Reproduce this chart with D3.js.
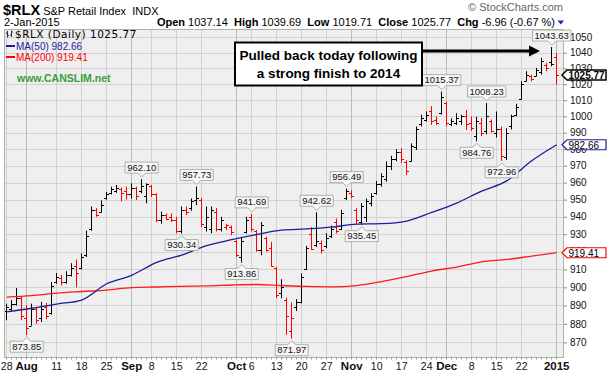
<!DOCTYPE html>
<html>
<head>
<meta charset="utf-8">
<script src="https://cdn.jsdelivr.net/npm/d3@7"></script>
<style>
  body { margin: 0; background: #fff; }
  svg { display: block; font-family: 'Liberation Sans', Arial, sans-serif; }
</style>
</head>
<body>
<svg id="chart" width="610" height="376"></svg>
<script>
// trading days Jul 28 2014 - Jan 2 2015
const holidays = ['2014-09-01', '2014-11-27', '2014-12-25', '2015-01-01']
const fmt = d3.timeFormat('%Y-%m-%d')
const days = d3.timeDays(new Date(2014, 6, 28), new Date(2015, 0, 3))
    .filter(d => d.getDay() % 6 !== 0 && !holidays.includes(fmt(d)))
    .map(fmt)

const opens = [887, 888, 891, 894, 883, 879, 888, 883, 889, 886,
    903, 905, 903, 907, 912, 911, 918, 933, 944, 943,
    951, 954, 955, 956, 955, 953, 957, 955, 952, 958,
    953, 938, 941, 940, 938, 932, 944, 945, 950, 950,
    934, 933, 943, 933, 934, 934, 926, 917, 931, 940,
    932, 921, 928, 922, 911, 897, 893, 876, 889, 892,
    910, 930, 924, 925, 923, 929, 937, 933, 951, 954,
    944, 937, 940, 948, 954, 959, 962, 970, 974, 978,
    972, 973, 981, 995, 998, 1003, 998, 1002, 1008, 995,
    996, 997, 1000, 996, 988, 996, 991, 997, 990, 992,
    975, 994, 1001, 1011, 1022, 1025, 1025, 1028, 1032, 1034, 1037.14]
const highs = [891, 893, 899.6, 895, 890, 891, 889, 892, 891.5, 903,
    908, 906.8, 909, 913.5, 915.5, 919, 932, 946, 945, 949.5,
    954.5, 957.6, 958.6, 957, 957.6, 959.6, 957.6, 962.10, 959.6, 958.6,
    953.7, 943, 942, 942, 940, 946, 946, 950.7, 957.73, 951,
    946, 946, 945, 940, 936, 935, 926.5, 928.5, 940, 941.69,
    932.3, 937, 928.6, 925.6, 911.5, 904.5, 894.3, 891.7, 893.5, 907.7,
    923.3, 934, 942.62, 926.4, 930.5, 935, 939, 944, 956.49, 955.5,
    945, 948, 950.7, 953.7, 961, 965.5, 972.7, 976, 980, 980.6,
    973.3, 983.5, 993.8, 1001, 1003, 1006.3, 1000, 1015.37, 1009, 998.8,
    1002, 1001, 1004, 1000, 999.8, 999, 1008.23, 998, 1003, 993.7,
    992.7, 1001, 1007.8, 1021.9, 1028.2, 1026, 1030.3, 1036.8, 1033.5, 1043.63, 1039.69]
const lows = [882, 887, 890, 882, 873.85, 879, 880, 881, 882.5, 885,
    902, 901, 902, 906, 900, 910, 917, 932, 940, 942.5,
    950, 953, 954, 949, 950, 950.6, 949.8, 953.7, 947.8, 951.6,
    937, 936, 938, 937, 930.4, 930.34, 941, 943.5, 946.8, 934,
    931.5, 930.5, 931.5, 931.5, 932.3, 929.4, 917, 913.86, 930.4, 931.5,
    920, 918, 920, 911.5, 894, 894, 874, 871.97, 887, 891.2,
    909.7, 921, 922.6, 919, 922, 927.8, 930.4, 932.3, 949.8, 950.7,
    936, 935.45, 937, 946, 953, 957.6, 960.5, 967.5, 972.7, 971.7,
    964.5, 972.7, 979.5, 993.8, 996.8, 994.7, 994.7, 1001, 994, 994,
    994.7, 994.7, 991.6, 991, 984.76, 988, 989, 990, 987, 972.96,
    973.5, 992, 1000, 1010.4, 1021.9, 1021.9, 1025, 1026, 1028.2, 1031.4, 1019.71]
const closes = [889, 891, 894, 884, 878, 888, 882, 888, 884, 901,
    906, 903, 907, 911, 908, 917, 929, 944, 941, 947,
    953, 956, 957, 954, 953, 957, 952, 958, 959, 953,
    938, 941, 939, 938, 932, 944, 943, 949, 951, 936,
    940, 944, 933, 938, 935, 931, 918, 926, 938, 933,
    921, 935, 921, 912, 896, 900, 884, 883, 892, 906,
    922, 921.5, 926, 921, 928, 933, 932, 942, 955, 952,
    938, 946, 949, 952, 959, 964, 970, 974, 978, 974,
    967, 982, 992, 999, 1001, 997, 996, 1012, 996, 997,
    999, 1000, 995, 993, 997, 990, 1000, 991, 992, 976,
    990, 1000, 1006, 1020, 1026, 1023, 1029, 1035, 1030, 1032.73, 1025.77]

// moving averages read every 5th trading day
const ma50 = [886.5, 888.5, 890.8, 893, 902, 906.7, 914, 918, 923.4, 926.8, 929.8, 932.3,
    933, 934, 935.8, 936, 937.5, 942.5, 948, 955, 961, 973, 982.66]
const ma200 = [894.6, 895.4, 896.8, 897.7, 898.5, 899.9, 900.2, 900.6, 900.8, 901.3, 901.6, 901,
    900.5, 900.3, 901, 903.2, 906, 909.1, 911.3, 914.3, 915.6, 917.5, 919.41]

const yTicks = d3.range(870, 1051, 10)
const tickDates = ['2014-07-28', '2014-08-01', '2014-08-11', '2014-08-18', '2014-08-25', '2014-09-02',
    '2014-09-08', '2014-09-15', '2014-09-22', '2014-10-01', '2014-10-06', '2014-10-13', '2014-10-20',
    '2014-10-27', '2014-11-03', '2014-11-10', '2014-11-17', '2014-11-24', '2014-12-01', '2014-12-08',
    '2014-12-15', '2014-12-22', '2015-01-02']
const tickText = ['28', 'Aug', '11', '18', '25', 'Sep', '8', '15', '22', 'Oct', '6', '13', '20',
    '27', 'Nov', '10', '17', '24', 'Dec', '8', '15', '22', '2015']

const highMarks = [27, 38, 49, 62, 68, 87, 96, 109]
const lowMarks = [4, 35, 47, 57, 71, 94, 99]

const svg = d3.select('#chart')
const L = 4, R = 564, T = 29, B = 357

const x = d3.scalePoint().domain(days).range([6.7, 556.7])
const y = d3.scaleLog().domain([862.2, 1055.3]).range([B, T])
const px = d => Math.floor(x(d)) + 0.5

// plot background + grid
svg.append('rect').attr('x', L).attr('y', T).attr('width', R - L).attr('height', B - T)
    .attr('fill', '#efefef')

svg.append('g').selectAll('line').data(yTicks).join('line')
    .attr('x1', L).attr('x2', R)
    .attr('y1', d => Math.round(y(d)) + 0.5).attr('y2', d => Math.round(y(d)) + 0.5)
    .attr('stroke', '#d2d2d2')

svg.append('g').selectAll('line').data(tickDates).join('line')
    .attr('x1', px).attr('x2', px)
    .attr('y1', T).attr('y2', B)
    .attr('stroke', (d, i) => /[A-Z]|2015/.test(tickText[i]) ? '#b8bcb8' : '#d2d2d2')

// price bars
const bars = svg.append('g').selectAll('g').data(days).join('g')
    .attr('stroke', (d, i) => i > 0 && closes[i] < closes[i - 1] ? '#ff0000' : '#000')
    .attr('stroke-width', 1)
bars.append('line')
    .attr('x1', px).attr('x2', px)
    .attr('y1', (d, i) => y(highs[i])).attr('y2', (d, i) => y(lows[i]))
bars.append('line')
    .attr('x1', d => px(d) - 2.5).attr('x2', px)
    .attr('y1', (d, i) => Math.round(y(opens[i])) + 0.5).attr('y2', (d, i) => Math.round(y(opens[i])) + 0.5)
bars.append('line')
    .attr('x1', px).attr('x2', d => px(d) + 2.5)
    .attr('y1', (d, i) => Math.round(y(closes[i])) + 0.5).attr('y2', (d, i) => Math.round(y(closes[i])) + 0.5)

// moving averages
const maLine = d3.line()
    .x((d, i) => x(days[i * 5]))
    .y(d => y(d))
    .curve(d3.curveMonotoneX)
svg.append('path').datum(ma200).attr('d', maLine)
    .attr('fill', 'none').attr('stroke', '#ff1a1a').attr('stroke-width', 1.3)
svg.append('path').datum(ma50).attr('d', maLine)
    .attr('fill', 'none').attr('stroke', '#1c1c9a').attr('stroke-width', 1.3)

// frame
svg.append('rect').attr('x', L + 0.5).attr('y', T + 0.5).attr('width', R - L - 1).attr('height', B - T)
    .attr('fill', 'none').attr('stroke', '#a9b3a9')

// right axis
const yAxis = svg.append('g')
    .attr('transform', `translate(${R},0)`)
    .call(d3.axisRight(y).tickValues(yTicks).tickSize(3).tickPadding(3).tickFormat(d3.format('d')))
yAxis.select('.domain').remove()
yAxis.selectAll('line').attr('stroke', '#888')
yAxis.selectAll('text').style('font-size', '10px').style('font-family', "'Liberation Sans', Arial").attr('fill', '#111')

// bottom axis
svg.append('g').selectAll('line').data(days).join('line')
    .attr('x1', px).attr('x2', px).attr('y1', B).attr('y2', B + 2.5)
    .attr('stroke', '#999')
svg.append('g').selectAll('text').data(tickDates).join('text')
    .text((d, i) => tickText[i])
    .attr('x', d => x(d))
    .attr('y', 370)
    .attr('text-anchor', 'middle')
    .style('font-size', (d, i) => /[A-Z]|2015/.test(tickText[i]) ? '11.5px' : '10.5px')
    .style('font-weight', (d, i) => /[A-Z]|2015/.test(tickText[i]) ? 'bold' : 'normal')
    .attr('fill', '#111')

// value callouts
function callout(i, isHigh) {
    const cx = x(days[i])
    const v = isHigh ? highs[i] : lows[i]
    const yv = y(v)
    const g = svg.append('g')
    const t = g.append('text').text(d3.format('.2f')(v))
        .style('font-size', '9.5px').attr('fill', '#111').attr('text-anchor', 'middle')
    const w = t.node().getComputedTextLength() + 4
    const h = 11
    let x0 = cx - w / 2, x1 = cx + w / 2
    const top = isHigh ? yv - 6 - h : yv + 6
    const bot = top + h
    const p = isHigh
        ? `M${x0},${top}H${x1}V${bot}H${cx + 4}L${cx},${bot + 4}L${cx - 4},${bot}H${x0}Z`
        : `M${x0},${top}H${cx - 4}L${cx},${top - 4}L${cx + 4},${top}H${x1}V${bot}H${x0}Z`
    g.insert('path', 'text').attr('d', p).attr('fill', '#f6f6f6').attr('stroke', '#a7b4a7')
    t.attr('x', cx).attr('y', bot - 2.5)
}
highMarks.forEach(i => callout(i, true))
lowMarks.forEach(i => callout(i, false))

// right-side last value tags
function tag(v, color, bold) {
    const yv = y(v)
    svg.append('path')
        .attr('d', `M${R - 2},${yv}L${R + 3},${yv - 5}H606V${yv + 5}H${R + 3}Z`)
        .attr('fill', '#fff').attr('stroke', color).attr('stroke-width', bold ? 1.5 : 1.2)
    svg.append('text').text(d3.format('.2f')(v))
        .attr('x', R + 4.5).attr('y', yv + 3.8)
        .style('font-size', '10px')
        .style('font-weight', bold ? 'bold' : 'normal')
        .attr('fill', '#000')
}
tag(ma200[ma200.length - 1], '#ff0000', false)
tag(ma50[ma50.length - 1], '#1c1c9a', false)
tag(closes[closes.length - 1], '#000', true)

// header
svg.append('text').attr('x', 3).attr('y', 15)
    .call(t => t.append('tspan').text('$RLX').style('font-size', '14.5px').style('font-weight', 'bold'))
    .call(t => t.append('tspan').text(' S&P Retail Index  INDX').attr('xml:space', 'preserve').style('font-size', '11px'))
    .style('white-space', 'pre')
svg.append('text').attr('x', 4).attr('y', 25.5).text('2-Jan-2015').style('font-size', '11px')
svg.append('text').attr('x', 563).attr('y', 11).attr('text-anchor', 'end')
    .text('\u00a9 StockCharts.com').style('font-size', '11px').attr('fill', '#666')

const stats = [['Open', '1037.14'], ['High', '1039.69'], ['Low', '1019.71'], ['Close', '1025.77'], ['Chg', '-6.96 (-0.67 %)']]
const hdr = svg.append('text').attr('x', 555).attr('y', 25.5).attr('text-anchor', 'end')
    .style('font-size', '11px').style('white-space', 'pre')
stats.forEach((s, i) => {
    hdr.append('tspan').text((i ? '  ' : '') + s[0]).style('font-weight', 'bold')
    hdr.append('tspan').text(' ' + s[1])
})
svg.append('path').attr('d', 'M557.5,20.5H564L560.75,24.5Z').attr('fill', '#2020d0')

// legend
const icon = svg.append('g').attr('stroke', '#333').attr('stroke-width', 1)
icon.append('path').attr('d', 'M7.5,31V37.5M6,33H7.5M7.5,35.5H9M11.5,30.5V37M10,35H11.5M11.5,32H13')
svg.append('text').attr('x', 15).attr('y', 38).text('$RLX (Daily) 1025.77')
    .style('font-family', "'DejaVu Sans', Verdana").style('font-size', '10.5px')
    .style('letter-spacing', '0.5px')
svg.append('line').attr('x1', 6).attr('x2', 15).attr('y1', 46).attr('y2', 46)
    .attr('stroke', '#1c1c9a').attr('stroke-width', 2)
svg.append('text').attr('x', 16).attr('y', 49.5).text('MA(50) ' + ma50[ma50.length - 1])
    .style('font-size', '10px').attr('fill', '#1c1c9a')
svg.append('line').attr('x1', 6).attr('x2', 15).attr('y1', 57).attr('y2', 57)
    .attr('stroke', '#ff0000').attr('stroke-width', 2)
svg.append('text').attr('x', 16).attr('y', 60.5).text('MA(200) ' + ma200[ma200.length - 1])
    .style('font-size', '10px').attr('fill', '#ff0000')

svg.append('text').attr('x', 17).attr('y', 82).text('www.CANSLIM.net')
    .style('font-size', '10.5px').style('font-weight', 'bold').attr('fill', '#3a9e3a')

// annotation
svg.append('rect').attr('x', 235).attr('y', 42.5).attr('width', 187).attr('height', 43)
    .attr('fill', '#fff').attr('stroke', '#000').attr('stroke-width', 2)
svg.append('text').attr('x', 328.5).attr('text-anchor', 'middle')
    .style('font-size', '13.5px').style('font-weight', 'bold')
    .call(t => t.append('tspan').attr('x', 328.5).attr('y', 60).text('Pulled back today following'))
    .call(t => t.append('tspan').attr('x', 328.5).attr('y', 78).text('a strong finish to 2014'))
svg.append('line').attr('x1', 423).attr('x2', 531).attr('y1', 51).attr('y2', 51)
    .attr('stroke', '#000').attr('stroke-width', 3)
svg.append('path').attr('d', 'M529,45.5L540,51L529,56.5Z').attr('fill', '#000')
</script>
</body>
</html>
